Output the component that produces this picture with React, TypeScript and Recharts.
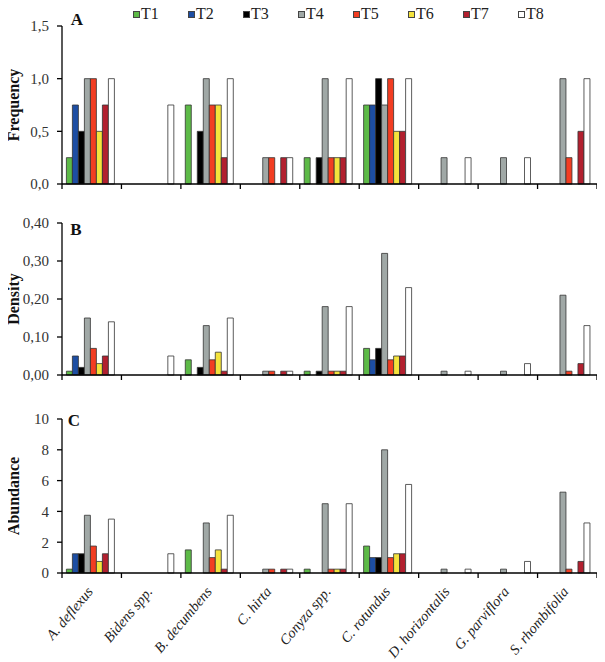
import React from 'react';
import { BarChart, Bar, XAxis, YAxis, Legend } from 'recharts';

const categories = [
  'A. deflexus',
  'Bidens spp.',
  'B. decumbens',
  'C. hirta',
  'Conyza spp.',
  'C. rotundus',
  'D. horizontalis',
  'G. parviflora',
  'S. rhombifolia',
];

const seriesNames = ['T1', 'T2', 'T3', 'T4', 'T5', 'T6', 'T7', 'T8'];
const seriesColors = ['#5dba47', '#1d4ea3', '#000000', '#a0a8a6', '#f23d22', '#f4e33c', '#b2202f', '#ffffff'];

// one row per treatment (T1..T8), one value per species
const frequency = [
  [0.25, 0, 0.75, 0, 0.25, 0.75, 0, 0, 0],
  [0.75, 0, 0, 0, 0, 0.75, 0, 0, 0],
  [0.5, 0, 0.5, 0, 0.25, 1, 0, 0, 0],
  [1, 0, 1, 0.25, 1, 0.75, 0.25, 0.25, 1],
  [1, 0, 0.75, 0.25, 0.25, 1, 0, 0, 0.25],
  [0.5, 0, 0.75, 0, 0.25, 0.5, 0, 0, 0],
  [0.75, 0, 0.25, 0.25, 0.25, 0.5, 0, 0, 0.5],
  [1, 0.75, 1, 0.25, 1, 1, 0.25, 0.25, 1],
];

const density = [
  [0.01, 0, 0.04, 0, 0.01, 0.07, 0, 0, 0],
  [0.05, 0, 0, 0, 0, 0.04, 0, 0, 0],
  [0.02, 0, 0.02, 0, 0.01, 0.07, 0, 0, 0],
  [0.15, 0, 0.13, 0.01, 0.18, 0.32, 0.01, 0.01, 0.21],
  [0.07, 0, 0.04, 0.01, 0.01, 0.04, 0, 0, 0.01],
  [0.03, 0, 0.06, 0, 0.01, 0.05, 0, 0, 0],
  [0.05, 0, 0.01, 0.01, 0.01, 0.05, 0, 0, 0.03],
  [0.14, 0.05, 0.15, 0.01, 0.18, 0.23, 0.01, 0.03, 0.13],
];

const abundance = [
  [0.25, 0, 1.5, 0, 0.25, 1.75, 0, 0, 0],
  [1.25, 0, 0, 0, 0, 1, 0, 0, 0],
  [1.25, 0, 0, 0, 0, 1, 0, 0, 0],
  [3.75, 0, 3.25, 0.25, 4.5, 8, 0.25, 0.25, 5.25],
  [1.75, 0, 1, 0.25, 0.25, 1, 0, 0, 0.25],
  [0.75, 0, 1.5, 0, 0.25, 1.25, 0, 0, 0],
  [1.25, 0, 0.25, 0.25, 0.25, 1.25, 0, 0, 0.75],
  [3.5, 1.25, 3.75, 0.25, 4.5, 5.75, 0.25, 0.75, 3.25],
];

const freqTicks = [0, 0.5, 1, 1.5];
const densTicks = [0, 0.1, 0.2, 0.3, 0.4];
const abunTicks = [0, 2, 4, 6, 8, 10];

const SERIF = '"Liberation Serif", "Times New Roman", serif';
const WIDTH = 605;
const Y_AXIS_W = 62;
const RIGHT = 8;
const BAND = (WIDTH - Y_AXIS_W - RIGHT) / categories.length;

const toRows = (values: number[][]) =>
  categories.map((name, i) => {
    const row: Record<string, string | number> = { name };
    seriesNames.forEach((s, k) => {
      row[s] = values[k][i];
    });
    return row;
  });

const comma = (digits: number) => (v: number) => v.toFixed(digits).replace('.', ',');

// ticks sit on category boundaries; the bottom panel also prints the species
const CategoryTick = (props: any) => {
  const { x, y, index, payload, showLabel } = props;
  const left = x - BAND / 2;
  const lx = x + 2;
  const ly = y + 19;
  return (
    <g>
      <line x1={left} y1={y} x2={left} y2={y + 5} stroke="#000" strokeWidth={1.3} />
      {index === categories.length - 1 && (
        <line x1={x + BAND / 2} y1={y} x2={x + BAND / 2} y2={y + 5} stroke="#000" strokeWidth={1.3} />
      )}
      {showLabel && (
        <text
          x={lx}
          y={ly}
          transform={`rotate(-50, ${lx}, ${ly})`}
          textAnchor="end"
          fontFamily={SERIF}
          fontStyle="italic"
          fontSize={14.5}
          fill="#222"
        >
          {payload.value}
        </text>
      )}
    </g>
  );
};

const AxisTitle = (props: any) => {
  const { viewBox, value } = props;
  const cx = 13;
  const cy = viewBox.y + viewBox.height / 2;
  return (
    <text
      x={cx}
      y={cy}
      transform={`rotate(-90, ${cx}, ${cy})`}
      textAnchor="middle"
      dominantBaseline="central"
      fontFamily={SERIF}
      fontWeight="bold"
      fontSize={16}
      fill="#111"
    >
      {value}
    </text>
  );
};

const LegendRow = (props: any) => {
  const { payload } = props;
  return (
    <div style={{ display: 'flex', height: 16, alignItems: 'center' }}>
      {payload.map((p: any) => (
        <div key={p.value} style={{ width: 55, height: 16, display: 'flex', alignItems: 'center' }}>
          <span
            style={{
              width: 7,
              height: 7,
              boxSizing: 'border-box',
              border: '1px solid #444',
              background: p.color,
              marginRight: 1,
            }}
          />
          <span style={{ fontFamily: SERIF, fontSize: 16, color: '#222', lineHeight: '16px' }}>{p.value}</span>
        </div>
      ))}
    </div>
  );
};

interface PanelProps {
  values: number[][];
  height: number;
  top: number;
  bottom: number;
  xHeight: number;
  domain: [number, number];
  ticks: number[];
  format: (v: number) => string;
  title: string;
  letter: string;
  letterPos: [number, number];
  legend?: boolean;
  labels?: boolean;
}

const Panel = (props: PanelProps) => {
  const { values, height, top, bottom, xHeight, domain, ticks, format, title, letter, letterPos, legend, labels } = props;
  return (
    <div style={{ position: 'relative', width: WIDTH, height }}>
      <BarChart
        width={WIDTH}
        height={height}
        data={toRows(values)}
        margin={{ top, right: RIGHT, left: 0, bottom }}
        barCategoryGap="7.4%"
        barGap={0}
      >
        {legend && (
          <Legend
            verticalAlign="top"
            align="left"
            content={<LegendRow />}
            wrapperStyle={{ top: 6, left: 133, width: 'auto' }}
          />
        )}
        <XAxis
          dataKey="name"
          interval={0}
          height={xHeight}
          tickLine={false}
          tickSize={0}
          tickMargin={0}
          axisLine={{ stroke: '#000', strokeWidth: 1.3 }}
          tick={<CategoryTick showLabel={labels} />}
        />
        <YAxis
          width={Y_AXIS_W}
          domain={domain}
          ticks={ticks}
          tickFormatter={format}
          tickSize={5}
          tickMargin={8}
          axisLine={{ stroke: '#000', strokeWidth: 1.3 }}
          tickLine={{ stroke: '#000', strokeWidth: 1.3 }}
          tick={{ fontFamily: SERIF, fontSize: 15, fill: '#333' }}
          label={<AxisTitle value={title} />}
        />
        {seriesNames.map((s, k) => (
          <Bar
            key={s}
            dataKey={s}
            fill={seriesColors[k]}
            stroke="#333"
            strokeWidth={0.8}
            isAnimationActive={false}
          />
        ))}
      </BarChart>
      <span
        style={{
          position: 'absolute',
          left: letterPos[0],
          top: letterPos[1],
          transform: 'translate(-50%, -50%)',
          fontFamily: SERIF,
          fontWeight: 'bold',
          fontSize: 17,
          color: '#111',
          lineHeight: 1,
        }}
      >
        {letter}
      </span>
    </div>
  );
};

export default function App() {
  return (
    <div style={{ margin: '-8px 0 0 -8px', width: WIDTH, background: '#fff' }}>
      <Panel
        values={frequency}
        height={200}
        top={10}
        bottom={6}
        xHeight={10}
        domain={[0, 1.5]}
        ticks={freqTicks}
        format={comma(1)}
        title="Frequency"
        letter="A"
        letterPos={[77, 19]}
        legend
      />
      <Panel
        values={density}
        height={185}
        top={23}
        bottom={0}
        xHeight={10}
        domain={[0, 0.4]}
        ticks={densTicks}
        format={comma(2)}
        title="Density"
        letter="B"
        letterPos={[76, 29]}
      />
      <Panel
        values={abundance}
        height={277}
        top={34}
        bottom={4}
        xHeight={85}
        domain={[0, 10]}
        ticks={abunTicks}
        format={(v: number) => String(v)}
        title="Abundance"
        letter="C"
        letterPos={[74, 35]}
        labels
      />
    </div>
  );
}
